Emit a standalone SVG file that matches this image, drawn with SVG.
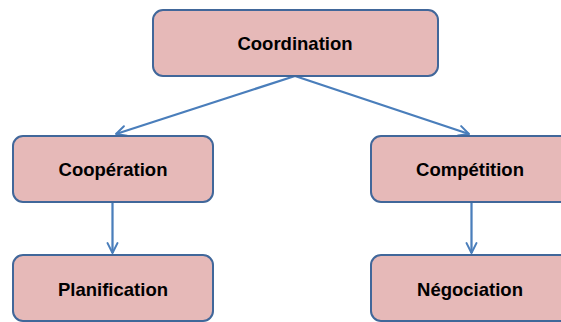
<svg xmlns="http://www.w3.org/2000/svg" width="561" height="322" viewBox="0 0 561 322">
<defs>
<style>
.box{fill:#E6B9B8;stroke:#41679A;stroke-width:2}
.lbl{font-family:"Liberation Sans",Arial,sans-serif;font-weight:bold;font-size:18.5px;fill:#000;text-anchor:middle}
.con{stroke:#4A7EBB;stroke-width:2.25;fill:none;marker-end:url(#arr)}
</style>
<marker id="arr" viewBox="0 0 10 10" refX="9" refY="5" markerWidth="5.5" markerHeight="5.5" orient="auto" markerUnits="strokeWidth">
<path d="M1,1 L9,5 L1,9" fill="none" stroke="#4A7EBB" stroke-width="1.6" stroke-linecap="round" stroke-linejoin="round"/>
</marker>
</defs>
<rect width="561" height="322" fill="#fff"/>
<g id="connectors">
<line class="con" x1="295" y1="76" x2="116" y2="134"/>
<line class="con" x1="295" y1="76" x2="469" y2="134"/>
<line class="con" x1="112.5" y1="202" x2="112.5" y2="253"/>
<line class="con" x1="471.5" y1="202" x2="471.5" y2="253"/>
</g>
<g id="coordination">
<rect class="box" x="153" y="10" width="285" height="66" rx="10"/>
<text class="lbl" x="295" y="49.5">Coordination</text>
</g>
<g id="cooperation">
<rect class="box" x="13" y="136" width="200" height="66" rx="10"/>
<text class="lbl" x="113" y="175.5">Coopération</text>
</g>
<g id="competition">
<rect class="box" x="371" y="136" width="202" height="66" rx="10"/>
<text class="lbl" x="470" y="175.5">Compétition</text>
</g>
<g id="planification">
<rect class="box" x="13" y="255" width="200" height="66" rx="10"/>
<text class="lbl" x="113" y="295.5">Planification</text>
</g>
<g id="negociation">
<rect class="box" x="371" y="255" width="202" height="66" rx="10"/>
<text class="lbl" x="470" y="295.5">Négociation</text>
</g>
</svg>
